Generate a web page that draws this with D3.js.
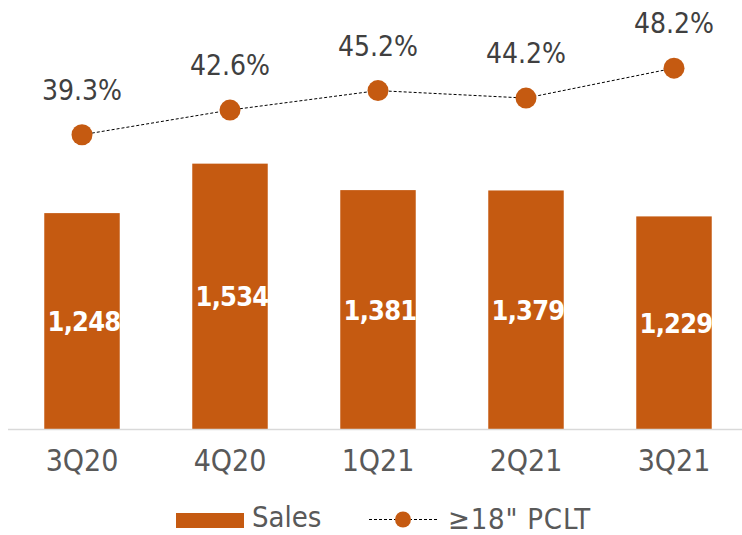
<!DOCTYPE html>
<html>
<head>
<meta charset="utf-8">
<script src="https://cdn.jsdelivr.net/npm/d3@7"></script>
<style>
  body { margin: 0; background: #fff; }
  text { font-family: "Liberation Sans Narrow", "DejaVu Sans Condensed", sans-serif; }
</style>
</head>
<body>
<svg width="742" height="535"></svg>
<script>
var quarters = ["3Q20", "4Q20", "1Q21", "2Q21", "3Q21"];
var sales = [1248, 1534, 1381, 1379, 1229];
var pclt = [39.3, 42.6, 45.2, 44.2, 48.2];

var orange = "#c55a11";

var svg = d3.select("svg"),
	baseY = 429;

var x = d3.scaleBand()
	.domain(quarters)
	.range([8, 748])
	.paddingInner(0.49)
	.paddingOuter(0.245);

var y = d3.scaleLinear()
	.domain([0, 2480])
	.range([baseY, 0]);

var y2 = d3.scaleLinear()
	.domain([0, 57.3])
	.range([baseY, 0]);

var cx = function(i) { return x(quarters[i]) + x.bandwidth() / 2; };

// bars
svg.selectAll(".bar")
  .data(sales)
  .enter().append("rect")
    .attr("class", "bar")
    .attr("x", function(d, i) { return x(quarters[i]); })
    .attr("y", function(d) { return y(d); })
    .attr("width", x.bandwidth())
    .attr("height", function(d) { return baseY - y(d); })
    .attr("fill", orange);

svg.selectAll(".bar-label")
  .data(sales)
  .enter().append("text")
    .attr("class", "bar-label")
    .attr("x", function(d, i) { return cx(i) + 2; })
    .attr("y", function(d) { return (y(d) + baseY) / 2 + 10; })
    .attr("text-anchor", "middle")
    .attr("fill", "#fff")
    .attr("font-weight", "bold")
    .attr("font-size", 27)
    .attr("letter-spacing", -0.8)
    .text(d3.format(","));

// x axis
svg.append("line")
  .attr("x1", 8).attr("x2", 742)
  .attr("y1", baseY + 0.5).attr("y2", baseY + 0.5)
  .attr("stroke", "#d9d9d9")
  .attr("stroke-width", 1.5);

svg.selectAll(".x-label")
  .data(quarters)
  .enter().append("text")
    .attr("class", "x-label")
    .attr("x", function(d, i) { return cx(i); })
    .attr("y", 471)
    .attr("text-anchor", "middle")
    .attr("fill", "#595959")
    .attr("font-size", 30)
    .text(function(d) { return d; });

// line series
var line = d3.line()
  .x(function(d, i) { return cx(i); })
  .y(function(d) { return y2(d); });

svg.append("path")
  .datum(pclt)
  .attr("fill", "none")
  .attr("stroke", "#000")
  .attr("stroke-width", 1)
  .attr("stroke-dasharray", "3,2")
  .attr("d", line);

svg.selectAll(".dot")
  .data(pclt)
  .enter().append("circle")
    .attr("class", "dot")
    .attr("cx", function(d, i) { return cx(i); })
    .attr("cy", function(d) { return y2(d); })
    .attr("r", 10.5)
    .attr("fill", orange);

svg.selectAll(".pct-label")
  .data(pclt)
  .enter().append("text")
    .attr("class", "pct-label")
    .attr("x", function(d, i) { return cx(i); })
    .attr("y", function(d) { return y2(d) - 35; })
    .attr("text-anchor", "middle")
    .attr("fill", "#404040")
    .attr("font-size", 28)
    .text(function(d) { return d.toFixed(1) + "%"; });

// legend
var legend = svg.append("g");
legend.append("rect")
  .attr("x", 176).attr("y", 513)
  .attr("width", 68).attr("height", 15)
  .attr("fill", orange);
legend.append("text")
  .attr("x", 252).attr("y", 527)
  .attr("fill", "#595959")
  .attr("font-size", 29)
  .text("Sales");
legend.append("line")
  .attr("x1", 369).attr("x2", 437)
  .attr("y1", 519.5).attr("y2", 519.5)
  .attr("stroke", "#000")
  .attr("stroke-dasharray", "3,2");
legend.append("circle")
  .attr("cx", 403).attr("cy", 519.5)
  .attr("r", 8)
  .attr("fill", orange);
legend.append("text")
  .attr("x", 448).attr("y", 529)
  .attr("fill", "#595959")
  .attr("font-size", 29)
  .attr("letter-spacing", 0.8)
  .text("\u226518\" PCLT");
</script>
</body>
</html>
